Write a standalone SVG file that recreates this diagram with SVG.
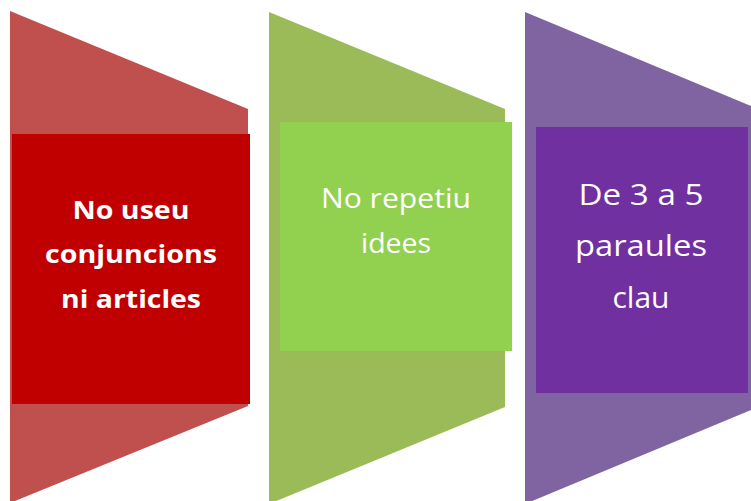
<svg xmlns="http://www.w3.org/2000/svg" width="751" height="501" viewBox="0 0 751 501">
  <style>
    .t { fill: #ffffff; font-family: "Open Sans", "Liberation Sans", sans-serif; text-anchor: middle; }
    .b { font-weight: bold; font-size: 25px; }
    .r { font-size: 28px; }
    .p { font-size: 29px; }
  </style>
  <rect width="751" height="501" fill="#ffffff"/>
  <g id="node-red">
    <polygon points="10,11 248,109 248,406 10,503" fill="#C0504D"/>
    <rect x="12" y="134" width="238" height="270" fill="#C00000"/>
    <text class="t b" x="131" y="219" textLength="117" lengthAdjust="spacingAndGlyphs">No useu</text>
    <text class="t b" x="131" y="263" textLength="172" lengthAdjust="spacingAndGlyphs">conjuncions</text>
    <text class="t b" x="131" y="308" textLength="140" lengthAdjust="spacingAndGlyphs">ni articles</text>
  </g>
  <g id="node-green">
    <polygon points="269,12 505,109 505,407 269,504" fill="#9BBB59"/>
    <rect x="280" y="122" width="232" height="229" fill="#92D050"/>
    <text class="t r" x="396" y="208" textLength="150" lengthAdjust="spacingAndGlyphs">No repetiu</text>
    <text class="t r" x="396" y="253" textLength="70" lengthAdjust="spacingAndGlyphs">idees</text>
  </g>
  <g id="node-purple">
    <polygon points="525,12 763,111 763,405 525,504" fill="#8064A2"/>
    <rect x="536" y="127" width="212" height="266" fill="#7030A0"/>
    <text class="t p" x="641" y="205" textLength="125" lengthAdjust="spacingAndGlyphs">De 3 a 5</text>
    <text class="t p" x="641" y="256" textLength="132" lengthAdjust="spacingAndGlyphs">paraules</text>
    <text class="t p" x="641" y="308" textLength="57" lengthAdjust="spacingAndGlyphs">clau</text>
  </g>
  <g id="connectors"/>
</svg>
